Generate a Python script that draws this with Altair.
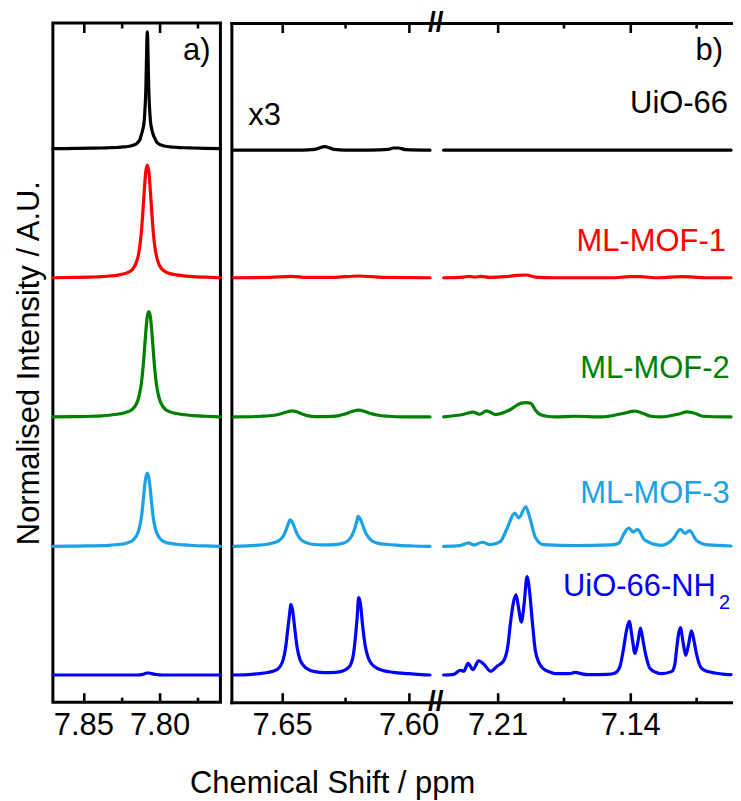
import altair as alt
import pandas as pd

FONT = "Liberation Sans"
FS = 31
H = 681
WA = 168
WB = 501

series_names = ["UiO-66", "ML-MOF-1", "ML-MOF-2", "ML-MOF-3", "UiO-66-NH2"]
series_colors = ["#000000", "#FF0000", "#008000", "#1BA1E6", "#0000FF"]
series_widths = [3.2, 3.2, 3.2, 3.2, 4.0]
series_offsets = [81.5, 62.5, 42.0, 22.95, 4.0]

# ---------------- panel a (7.87 - 7.76 ppm) ----------------
a_ppm = [7.870, 7.855, 7.845, 7.838, 7.833, 7.828, 7.824, 7.821, 7.819, 7.817,
         7.815, 7.814, 7.813, 7.812, 7.811, 7.810, 7.809, 7.808, 7.807, 7.806,
         7.805, 7.804, 7.803, 7.802, 7.801, 7.800, 7.798, 7.796, 7.793, 7.789,
         7.784, 7.778, 7.770, 7.760]
a_uio66 = [0.0, 0.04, 0.07, 0.10, 0.14, 0.18, 0.26, 0.32, 0.40, 0.55,
           0.72, 1.0, 1.25, 2.0, 2.8, 4.2, 8.5, 17.2, 8.5, 4.2,
           2.8, 2.0, 1.5, 1.0, 0.8, 0.65, 0.48, 0.36, 0.27, 0.2,
           0.14, 0.1, 0.05, 0.0]
a_mof1 = [0.0, 0.05, 0.1, 0.15, 0.25, 0.35, 0.55, 0.75, 1.0, 1.45,
          2.4, 3.2, 4.5, 6.5, 9.4, 12.8, 15.6, 16.6, 15.6, 12.8,
          9.4, 6.5, 4.5, 3.2, 2.4, 1.8, 1.2, 0.85, 0.6, 0.42,
          0.28, 0.15, 0.08, 0.0]
a_mof2 = [0.0, 0.05, 0.1, 0.17, 0.25, 0.4, 0.55, 0.75, 0.95, 1.3,
          2.0, 2.6, 3.5, 4.8, 6.8, 9.5, 12.5, 14.8, 15.5, 14.8,
          12.5, 9.5, 6.8, 4.8, 3.5, 2.6, 1.6, 1.1, 0.75, 0.5,
          0.32, 0.2, 0.1, 0.0]
a_mof3 = [0.0, 0.03, 0.07, 0.1, 0.15, 0.25, 0.34, 0.5, 0.68, 1.0,
          1.6, 2.1, 2.9, 4.1, 6.0, 8.3, 10.1, 10.8, 10.1, 8.3,
          6.0, 4.1, 2.9, 2.1, 1.6, 1.25, 0.8, 0.58, 0.45, 0.3,
          0.2, 0.12, 0.06, 0.0]
a_nh2 = [0.0, 0.0, 0.0, 0.0, 0.0, 0.0, 0.0, 0.0, 0.0, 0.0,
         0.0, 0.0, 0.02, 0.05, 0.1, 0.15, 0.25, 0.3, 0.3, 0.25,
         0.2, 0.15, 0.1, 0.08, 0.04, 0.02, 0.0, 0.0, 0.0, 0.0,
         0.0, 0.0, 0.0, 0.0]

# ---------------- panel b, left part (7.67 - 7.59 ppm) ----------------
bl_uio66_ppm = [7.6690, 7.6420, 7.6370, 7.6330, 7.6295, 7.6250, 7.6150, 7.6080,
                7.6060, 7.6040, 7.6010, 7.5915]
bl_uio66 = [-0.22, -0.22, -0.1, 0.3, -0.1, -0.2, -0.2, -0.1, 0.1, 0.1, -0.15, -0.22]

bl_mof1_ppm = [7.6690, 7.6550, 7.6465, 7.6400, 7.6300, 7.6198, 7.6100, 7.5915]
bl_mof1 = [0.0, 0.05, 0.2, 0.05, 0.05, 0.25, 0.05, 0.0]

bl_mof2_ppm = [7.6690, 7.6580, 7.6530, 7.6500, 7.6475, 7.6460, 7.6445, 7.6420,
               7.6395, 7.6370, 7.6320, 7.6280, 7.6250, 7.6220, 7.6198, 7.6175,
               7.6150, 7.6120, 7.6080, 7.6020, 7.5915]
bl_mof2 = [0.0, 0.1, 0.25, 0.5, 0.8, 0.9, 0.8, 0.45, 0.15, 0.05, 0.05, 0.15,
           0.45, 0.85, 1.0, 0.85, 0.5, 0.25, 0.1, 0.0, 0.0]

bl_mof3_ppm = [7.6690, 7.6600, 7.6560, 7.6530, 7.6510, 7.6495, 7.6485, 7.6475,
               7.6468, 7.6460, 7.6450, 7.6440, 7.6425, 7.6405, 7.6380, 7.6340,
               7.6290, 7.6260, 7.6240, 7.6225, 7.6213, 7.6205, 7.6199, 7.6190,
               7.6180, 7.6168, 7.6150, 7.6125, 7.6090, 7.6040, 7.5980, 7.5915]
bl_mof3 = [0.0, 0.15, 0.3, 0.55, 0.9, 1.5, 2.3, 3.3, 3.9, 3.6, 2.7, 1.8,
           1.0, 0.55, 0.3, 0.2, 0.25, 0.45, 0.8, 1.5, 2.6, 3.6, 4.4, 4.0,
           3.0, 1.9, 1.0, 0.5, 0.3, 0.15, 0.05, 0.0]

bl_nh2_ppm = [7.6690, 7.6620, 7.6570, 7.6540, 7.6520, 7.6505, 7.6495, 7.6485,
              7.6478, 7.6470, 7.6465, 7.6458, 7.6450, 7.6440, 7.6430, 7.6415,
              7.6395, 7.6370, 7.6330, 7.6290, 7.6260, 7.6240, 7.6228, 7.6218,
              7.6210, 7.6203, 7.6197, 7.6190, 7.6182, 7.6172, 7.6160, 7.6145,
              7.6125, 7.6100, 7.6060, 7.6000, 7.5950, 7.5915]
bl_nh2 = [0.0, 0.1, 0.3, 0.5, 0.8, 1.4, 2.3, 4.2, 6.5, 9.0, 10.4, 9.5,
          7.0, 4.0, 2.4, 1.4, 0.8, 0.5, 0.35, 0.4, 0.6, 1.0, 1.6, 3.0,
          5.5, 8.5, 11.4, 10.5, 7.5, 4.5, 2.6, 1.6, 1.0, 0.65, 0.4, 0.2,
          0.05, 0.0]

# ---------------- panel b, right part (7.24 - 7.087 ppm) ----------------
br_uio66_ppm = [7.2385, 7.1500, 7.0868]
br_uio66 = [-0.22, -0.22, -0.22]

br_mof1_ppm = [7.2385, 7.2280, 7.2250, 7.2220, 7.2190, 7.2140, 7.2060, 7.2000,
               7.1950, 7.1900, 7.1800, 7.1500, 7.1400, 7.1350, 7.1250, 7.1130,
               7.1080, 7.1000, 7.0868]
br_mof1 = [0.0, 0.1, 0.2, 0.08, 0.2, 0.05, 0.15, 0.35, 0.4, 0.1, 0.0, 0.0,
           0.15, 0.15, 0.0, 0.15, 0.12, 0.0, 0.0]

br_mof2_ppm = [7.2385, 7.2278, 7.2229, 7.2194, 7.2158, 7.2111, 7.2032, 7.1979,
               7.1950, 7.1925, 7.1900, 7.1884, 7.1840, 7.1796, 7.1691, 7.1550,
               7.1440, 7.1375, 7.1330, 7.1290, 7.1235, 7.1150, 7.1098, 7.1050,
               7.1019, 7.0900, 7.0868]
br_mof2 = [0.0, 0.4, 0.7, 0.4, 0.9, 0.35, 1.1, 2.0, 2.1, 2.0, 1.0, 0.5,
           0.1, 0.0, 0.1, 0.0, 0.5, 0.85, 0.5, 0.1, 0.0, 0.4, 0.75, 0.45,
           0.1, 0.0, 0.0]

br_mof3_ppm = [7.2385, 7.2300, 7.2253, 7.2226, 7.2182, 7.2138, 7.2086, 7.2051,
               7.2010, 7.1989, 7.1951, 7.1928, 7.1901, 7.1858, 7.1691, 7.1500,
               7.1463, 7.1428, 7.1407, 7.1384, 7.1362, 7.1323, 7.1235, 7.1174,
               7.1135, 7.1112, 7.1086, 7.1051, 7.0990, 7.0868]
br_mof3 = [0.0, 0.1, 0.5, 0.2, 0.6, 0.25, 0.7, 2.6, 4.9, 4.2, 5.8, 4.0,
           1.35, 0.25, 0.1, 0.2, 0.4, 2.1, 2.7, 2.1, 2.5, 0.9, 0.15, 1.1,
           2.5, 1.9, 2.3, 0.9, 0.2, 0.05]

br_nh2_ppm = [7.2385, 7.2332, 7.2296, 7.2279, 7.2256, 7.2230, 7.2200, 7.2168,
              7.2138, 7.2103, 7.2070, 7.2045, 7.2033, 7.2018, 7.2003, 7.1990,
              7.1975, 7.1960, 7.1945, 7.1932, 7.1919, 7.1901, 7.1880, 7.1858,
              7.1820, 7.1796, 7.1720, 7.1691, 7.1660, 7.1621, 7.1520, 7.1480,
              7.1455, 7.1437, 7.1420, 7.1405, 7.1390, 7.1375, 7.1360, 7.1346,
              7.1332, 7.1320, 7.1296, 7.1265, 7.1235, 7.1182, 7.1165, 7.1156,
              7.1145, 7.1135, 7.1121, 7.1107, 7.1092, 7.1077, 7.1063, 7.1051,
              7.1024, 7.0990, 7.0954, 7.0900, 7.0868]
br_nh2 = [0.0, 0.1, 0.7, 0.55, 1.7, 0.8, 2.1, 1.45, 0.55, 1.3, 2.0, 4.5,
          7.5, 10.5, 11.8, 10.0, 7.8, 10.5, 14.5, 12.5, 8.5, 3.6, 1.7, 0.9,
          0.4, 0.2, 0.2, 0.4, 0.2, 0.05, 0.1, 0.3, 1.2, 3.6, 6.5, 7.9,
          5.5, 3.2, 4.8, 6.9, 5.0, 3.2, 1.0, 0.4, 0.2, 0.5, 1.5, 3.6,
          6.0, 7.0, 4.8, 2.9, 4.5, 6.5, 5.0, 3.2, 1.0, 0.5, 0.3, 0.1,
          0.05]

# ---------------- annotation texts ----------------
a_label_text = ["a)"]
a_label_ppm = [7.7665]
a_label_y = [94.6]

b_right_text = ["b)", "UiO-66", "ML-MOF-1", "ML-MOF-2", "ML-MOF-3"]
b_right_ppm = [7.091, 7.0884, 7.0895, 7.0875, 7.0875]
b_right_y = [94.6, 86.8, 66.4, 47.7, 29.4]
b_right_series = ["UiO-66", "UiO-66", "ML-MOF-1", "ML-MOF-2", "ML-MOF-3"]

b_left_text = ["x3", "UiO-66-NH"]
b_left_ppm = [7.6633, 7.1755]
b_left_y = [85.0, 15.7]
b_left_series = ["UiO-66", "UiO-66-NH2"]

sub_text = ["2"]
sub_ppm = [7.0932]
sub_y = [13.7]

break_text = ["//", "//"]
break_ppm = [7.49, 7.49]
break_y = [100.0, 0.0]

a_ticks_major = [7.85, 7.80]
a_ticks_minor = [7.825, 7.775]
b_ticks_major = [7.65, 7.60, 7.21, 7.14]
b_ticks_minor = [7.625, 7.175, 7.105]
b_labels = [7.65, 7.60, 7.21, 7.14]

X_TITLE = "Chemical Shift / ppm"
Y_TITLE = "Normalised Intensity / A.U."


def build_lines(parts):
    rows = []
    for si, seg, xs, ys in parts:
        for x, v in zip(xs, ys):
            rows.append({"ppm": x, "y": v + series_offsets[si],
                         "series": series_names[si], "seg": seg})
    return pd.DataFrame(rows)


df_a = build_lines([
    (0, "a", a_ppm, a_uio66), (1, "a", a_ppm, a_mof1), (2, "a", a_ppm, a_mof2),
    (3, "a", a_ppm, a_mof3), (4, "a", a_ppm, a_nh2)])
df_b = build_lines([
    (0, "l", bl_uio66_ppm, bl_uio66), (1, "l", bl_mof1_ppm, bl_mof1),
    (2, "l", bl_mof2_ppm, bl_mof2), (3, "l", bl_mof3_ppm, bl_mof3),
    (4, "l", bl_nh2_ppm, bl_nh2),
    (0, "r", br_uio66_ppm, br_uio66), (1, "r", br_mof1_ppm, br_mof1),
    (2, "r", br_mof2_ppm, br_mof2), (3, "r", br_mof3_ppm, br_mof3),
    (4, "r", br_nh2_ppm, br_nh2)])

y_scale = alt.Scale(domain=[0, 100], nice=False, zero=False)
color_scale = alt.Scale(domain=series_names, range=series_colors)
width_scale = alt.Scale(domain=series_names, range=series_widths)

xa_scale = alt.Scale(domain=[7.87, 7.76], nice=False, zero=False)
xb_scale = alt.Scale(domain=[7.67, 7.59, 7.24, 7.0868], range=[0, 203, 210, WB],
                     nice=False, zero=False)


def tick_test(vals):
    return " || ".join(f"abs(datum.value - {v}) < 0.000001" for v in vals)


def tick_layers(xscale, major, minor, frame):
    tdf = pd.DataFrame({"ppm": major + minor})
    size = {"condition": {"test": tick_test(major), "value": 9.5}, "value": 5}
    layers = []
    for orient in ["top", "bottom"]:
        # orient "bottom" shifted by -H sits on the top edge (draws the top frame line)
        show_domain = frame and orient == "bottom"
        layers.append(
            alt.Chart(tdf).mark_point(opacity=0).encode(
                x=alt.X("ppm:Q", scale=xscale,
                        axis=alt.Axis(orient=orient, offset=-H, values=major + minor,
                                      labels=False, domain=show_domain, domainColor="black",
                                      domainWidth=3, domainCap="square",
                                      grid=False, title=None,
                                      tickSize=size, tickWidth=2.6, tickColor="black")),
                y=alt.value(0),
            )
        )
    return layers


def line_layer(df, xscale, label_vals, yaxis, frame):
    return alt.Chart(df).mark_line(interpolate="monotone", strokeCap="round",
                                   strokeJoin="round").encode(
        x=alt.X("ppm:Q", scale=xscale,
                axis=alt.Axis(orient="bottom", values=label_vals, format=".2f", ticks=False,
                              domain=frame, domainColor="black", domainWidth=3,
                              domainCap="square",
                              grid=False, title=None, labelFont=FONT,
                              labelFontSize=FS, labelColor="black", labelPadding=8,
                              labelFlush=False, labelOverlap=False)),
        y=alt.Y("y:Q", scale=y_scale, axis=yaxis),
        color=alt.Color("series:N", scale=color_scale, legend=None),
        strokeWidth=alt.StrokeWidth("series:N", scale=width_scale, legend=None),
        detail="seg:N",
    )


def text_layer(df, xscale, align, size=FS):
    return alt.Chart(df).mark_text(align=align, baseline="alphabetic", font=FONT,
                                   fontSize=size).encode(
        x=alt.X("ppm:Q", scale=xscale, axis=None),
        y=alt.Y("y:Q", scale=y_scale, axis=None),
        text="text:N",
        color=alt.Color("series:N", scale=color_scale, legend=None),
    )


# panel a (full frame from the view stroke)
ya_axis = alt.Axis(title=Y_TITLE, labels=False, ticks=False, domain=False, grid=False,
                   titleFont=FONT, titleFontSize=FS, titleFontWeight="normal",
                   titleColor="black", titlePadding=7)
lab_a = pd.DataFrame({"text": a_label_text, "ppm": a_label_ppm, "y": a_label_y,
                      "series": ["UiO-66"]})
panel_a = alt.layer(
    line_layer(df_a, xa_scale, a_ticks_major, ya_axis, False),
    *tick_layers(xa_scale, a_ticks_major, a_ticks_minor, False),
    text_layer(lab_a, xa_scale, "right"),
).resolve_axis(x="independent", y="independent").properties(
    width=WA, height=H,
    view=alt.ViewBackground(stroke="black", strokeWidth=3, strokeOpacity=1),
)

# panel b (left, top and bottom frame lines from axis domains; open on the right)
yb_axis = alt.Axis(title=None, labels=False, ticks=False, grid=False, domain=True,
                   domainColor="black", domainWidth=3, domainCap="square")
lab_br = pd.DataFrame({"text": b_right_text, "ppm": b_right_ppm, "y": b_right_y,
                       "series": b_right_series})
lab_bl = pd.DataFrame({"text": b_left_text, "ppm": b_left_ppm, "y": b_left_y,
                       "series": b_left_series})
lab_sub = pd.DataFrame({"text": sub_text, "ppm": sub_ppm, "y": sub_y,
                        "series": ["UiO-66-NH2"]})
lab_break = pd.DataFrame({"text": break_text, "ppm": break_ppm, "y": break_y,
                          "series": ["UiO-66", "UiO-66"]})
breaks = alt.Chart(lab_break).mark_text(align="center", baseline="middle", font=FONT,
                                        fontSize=28, fontWeight="bold").encode(
    x=alt.X("ppm:Q", scale=xb_scale, axis=None),
    y=alt.Y("y:Q", scale=y_scale, axis=None),
    text="text:N",
    color=alt.Color("series:N", scale=color_scale, legend=None),
)
panel_b = alt.layer(
    line_layer(df_b, xb_scale, b_labels, yb_axis, True),
    *tick_layers(xb_scale, b_ticks_major, b_ticks_minor, True),
    text_layer(lab_br, xb_scale, "right"),
    text_layer(lab_bl, xb_scale, "left"),
    text_layer(lab_sub, xb_scale, "left", 20),
    breaks,
).resolve_axis(x="independent", y="independent").properties(
    width=WB, height=H,
    view=alt.ViewBackground(strokeOpacity=0),
)

chart = alt.hconcat(panel_a, panel_b, spacing=7).properties(
    title=alt.TitleParams(X_TITLE, orient="bottom", anchor="start", dx=178, offset=28,
                          font=FONT, fontSize=FS, fontWeight="normal", color="black"),
    padding={"left": 4, "top": 0, "right": 0, "bottom": 0},
).configure_view(strokeOpacity=0).configure(background="white")

chart.save("out.html", embed_options={"renderer": "svg", "actions": False})
